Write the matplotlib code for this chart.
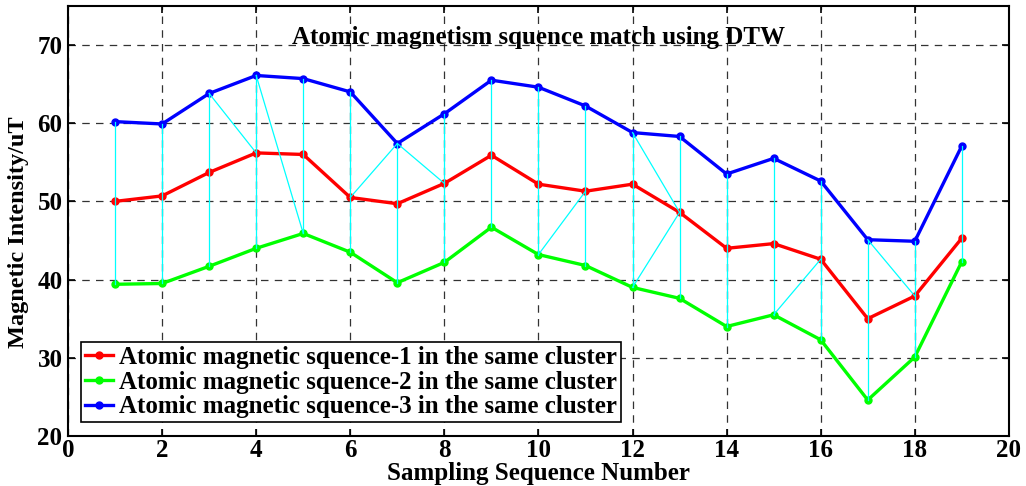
import matplotlib
matplotlib.use("Agg")
import matplotlib.pyplot as plt

# sampling index
seq_x = list(range(1, 20))

# atomic magnetic sequences (uT)
seq1 = [50.0, 50.7, 53.7, 56.2, 56.0, 50.5, 49.7, 52.3, 55.9, 52.2,
        51.3, 52.2, 48.6, 44.0, 44.6, 42.6, 35.0, 37.9, 45.3]
seq2 = [39.4, 39.5, 41.7, 44.0, 45.9, 43.5, 39.6, 42.2, 46.7, 43.2,
        41.8, 39.0, 37.6, 34.0, 35.5, 32.3, 24.6, 30.1, 42.3]
seq3 = [60.2, 59.9, 63.8, 66.1, 65.7, 64.0, 57.4, 61.2, 65.5, 64.6,
        62.2, 58.8, 58.3, 53.5, 55.5, 52.6, 45.1, 44.9, 57.1]

# DTW warping links: (from index, from sequence, to index, to sequence)
diag_links = [(3, 3, 4, 1), (4, 3, 5, 2), (6, 1, 7, 3), (7, 3, 8, 1),
              (10, 2, 11, 1), (12, 3, 13, 1), (12, 2, 13, 1),
              (15, 2, 16, 1), (17, 3, 18, 1)]

labels = ['Atomic magnetic squence-1 in the same cluster',
          'Atomic magnetic squence-2 in the same cluster',
          'Atomic magnetic squence-3 in the same cluster']

plt.rcParams['font.family'] = ['Liberation Serif', 'DejaVu Serif']
plt.rcParams['font.weight'] = 'bold'

fig = plt.figure(figsize=(10.26, 4.86), dpi=100)
ax = fig.add_axes([0.0663, 0.1029, 0.917, 0.885])

series = {1: seq1, 2: seq2, 3: seq3}
ax.plot(seq_x, seq1, '-o', color='red', lw=2.4, ms=5, label=labels[0], zorder=3)
ax.plot(seq_x, seq2, '-o', color='#00ff00', lw=2.4, ms=5, label=labels[1], zorder=3)
ax.plot(seq_x, seq3, '-o', color='blue', lw=2.4, ms=5, label=labels[2], zorder=3)

# vertical matches between sequence-3 and sequence-2
for i, x in enumerate(seq_x):
    ax.plot([x, x], [seq3[i], seq2[i]], color='cyan', lw=0.9, zorder=4)
for a, sa, b, sb in diag_links:
    ax.plot([a, b], [series[sa][a - 1], series[sb][b - 1]], color='cyan', lw=0.9, zorder=4)

ax.set_xlim(0, 20)
ax.set_ylim(20, 75)
ax.set_xticks(range(0, 21, 2))
ax.set_yticks(range(20, 71, 10))
ax.tick_params(direction='in', top=True, right=True, labelsize=18, length=5, width=1.2)
ax.tick_params(axis='x', pad=2)
ax.tick_params(axis='y', pad=4)
for s in ax.spines.values():
    s.set_linewidth(1.5)
ax.grid(True, color='black', linestyle=(0, (6, 5)), linewidth=0.9, alpha=0.8)
ax.set_axisbelow(True)

ax.text(10, 71.0, 'Atomic magnetism squence match using DTW', ha='center', va='center',
        fontsize=18, fontweight='bold')
ax.set_xlabel('Sampling Sequence Number', fontsize=18, fontweight='bold')
ax.xaxis.set_label_coords(0.5, -0.06)
ax.set_ylabel('Magnetic Intensity/uT', fontsize=17.5, fontweight='bold')
ax.yaxis.set_label_coords(-0.042, 0.474)

leg = ax.legend(loc='lower left', bbox_to_anchor=(0.005, 0.012), fontsize=18, frameon=True,
                fancybox=False, edgecolor='black', framealpha=1, handlelength=1.1,
                borderpad=0.15, labelspacing=0.07, handletextpad=0.25, borderaxespad=0.35)
leg.get_frame().set_linewidth(1.2)
for line in leg.get_lines():
    line.set_linewidth(2.4)

fig.savefig('out.png', dpi=100)
